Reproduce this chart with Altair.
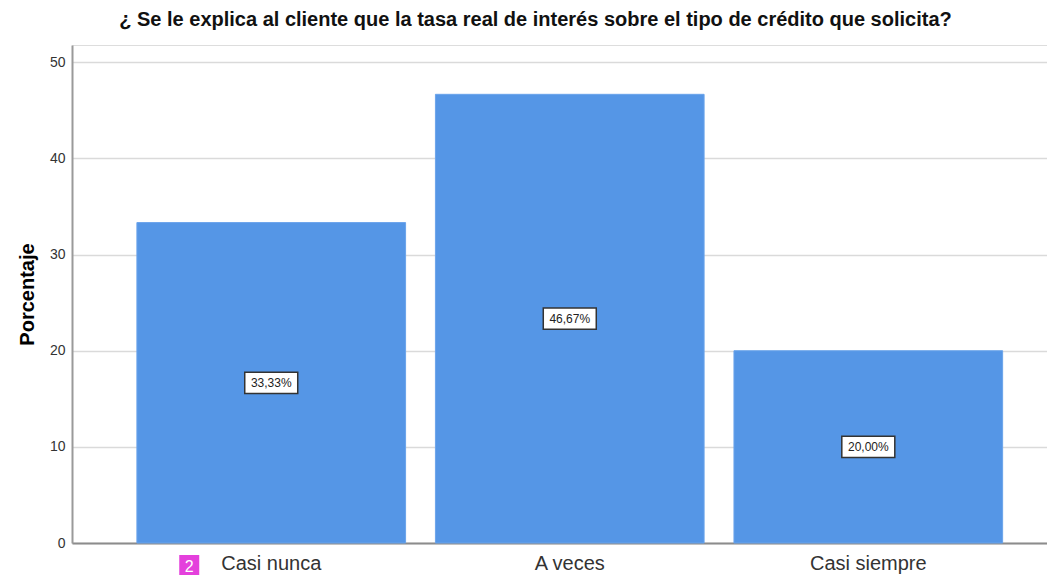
import altair as alt
import pandas as pd

categories = ["Casi nunca", "A veces", "Casi siempre"]
percentages = [33.33, 46.67, 20.00]
labels = ["33,33%", "46,67%", "20,00%"]
y_ticks = [0, 10, 20, 30, 40, 50]
title_text = "¿ Se le explica al cliente que la tasa real de interés sobre el tipo de crédito que solicita?"
badge_cat = ["Casi nunca"]
badge_text = ["2"]

df = pd.DataFrame({"cat": categories, "pct": percentages, "label": labels})
df["mid"] = df["pct"] / 2
badge = pd.DataFrame({"cat": badge_cat, "t": badge_text})

FONT = "Liberation Sans"
xscale = alt.Scale(domain=categories, paddingInner=0.1, paddingOuter=0.183, align=0.594)
yscale = alt.Scale(domain=[0, 51.8], nice=False, zero=True)

x_enc = alt.X("cat:N", scale=xscale, sort=categories,
              axis=alt.Axis(title=None, labelAngle=0, labelFontSize=20, labelFont=FONT,
                            labelColor="#333333", labelPadding=10, ticks=False,
                            domainColor="#8c8c8c", domainWidth=2))

bars = alt.Chart(df).mark_bar(color="#5596E6", stroke="#6BA4EB", strokeWidth=1).encode(
    x=x_enc,
    y=alt.Y("pct:Q", scale=yscale,
            axis=alt.Axis(title="Porcentaje", values=y_ticks, grid=True, gridColor="#dadada",
                          gridWidth=1.5, ticks=False, domainColor="#9a9a9a", domainWidth=2,
                          labelFontSize=14, labelFont=FONT, labelColor="#333333", labelPadding=7,
                          titleFontSize=20, titleFont=FONT, titleFontWeight="bold",
                          titleColor="#000000", titlePadding=12)),
)

box_path = "M-1,-0.4L1,-0.4L1,0.4L-1,0.4Z"
boxes = alt.Chart(df).mark_point(shape=box_path, size=2809, filled=True, fill="white",
                                 stroke="#333333", strokeWidth=1.5, opacity=1).encode(
    x=alt.X("cat:N", scale=xscale, sort=categories),
    y=alt.Y("mid:Q", scale=yscale),
)
texts = alt.Chart(df).mark_text(fontSize=12, font=FONT, color="#222222").encode(
    x=alt.X("cat:N", scale=xscale, sort=categories),
    y=alt.Y("mid:Q", scale=yscale),
    text="label:N",
)

badge_sq = alt.Chart(badge).mark_point(shape="square", size=400, filled=True, color="#E440DC",
                                       opacity=1, xOffset=-82).encode(
    x=alt.X("cat:N", scale=xscale, sort=categories),
    y=alt.value(520),
)
badge_tx = alt.Chart(badge).mark_text(fontSize=16, font=FONT, color="white", xOffset=-82, dy=2).encode(
    x=alt.X("cat:N", scale=xscale, sort=categories),
    y=alt.value(520),
    text="t:N",
)

chart = alt.layer(bars, boxes, texts, badge_sq, badge_tx).properties(
    width=975, height=498,
    title=alt.TitleParams(title_text, fontSize=20, font=FONT, fontWeight="bold", color="#111111",
                          anchor="middle", dx=-24, offset=15),
    autosize=alt.AutoSizeParams(type="none"),
    padding={"left": 64, "top": 37, "right": 0, "bottom": 32},
).configure_view(stroke=None).configure(background="white")

chart.save("out.html", embed_options={"renderer": "svg", "actions": False})
